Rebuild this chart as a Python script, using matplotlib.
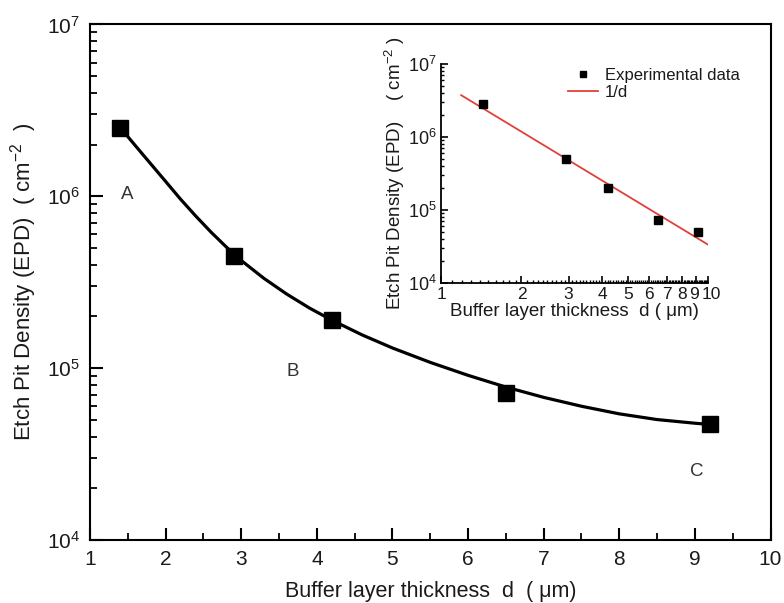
import numpy as np
import matplotlib
matplotlib.use("Agg")
import matplotlib.pyplot as plt
import matplotlib.transforms as mtransforms
from matplotlib.ticker import FixedLocator, LogLocator, NullFormatter, LogFormatterMathtext, FixedFormatter
from matplotlib.lines import Line2D

plt.rcParams['font.family'] = ['Liberation Sans', 'DejaVu Sans']
plt.rcParams['mathtext.fontset'] = 'custom'
plt.rcParams['mathtext.rm'] = 'Liberation Sans'
plt.rcParams['mathtext.it'] = 'Liberation Sans:italic'
plt.rcParams['mathtext.default'] = 'regular'

# ---- data ----
thickness = [1.4, 2.9, 4.2, 6.5, 9.2]
epd = [2.5e6, 4.5e5, 1.9e5, 7.2e4, 4.7e4]

curve_x = [1.4, 1.6, 1.8, 2.0, 2.2, 2.4, 2.6, 2.8, 3.0, 3.3, 3.6, 3.9, 4.2, 4.6,
           5.0, 5.5, 6.0, 6.5, 7.0, 7.5, 8.0, 8.5, 9.0, 9.2]
curve_y = [2.51e6, 1.97e6, 1.55e6, 1.22e6, 9.59e5, 7.66e5, 6.19e5, 5.08e5, 4.23e5,
           3.33e5, 2.70e5, 2.24e5, 1.90e5, 1.56e5, 1.31e5, 1.08e5, 9.08e4, 7.76e4,
           6.76e4, 6.00e4, 5.42e4, 5.02e4, 4.78e4, 4.70e4]

inset_x = [1.44, 2.93, 4.2, 6.47, 9.18]
inset_y = [2.8e6, 4.9e5, 2.0e5, 7.2e4, 4.9e4]
fit_x = [1.19, 10.0]
fit_y = [3.7e6, 3.3e4]

point_labels = ["A", "B", "C"]
label_x = [1.49, 3.68, 9.02]
label_y = [1.02e6, 9.6e4, 2.5e4]

txt = '#1a1a1a'
fig = plt.figure(figsize=(7.84, 6.03), dpi=100)
ax = fig.add_axes([0.1148, 0.1045, 0.868, 0.855])
ax.set_yscale('log')
ax.set_xlim(1, 10)
ax.set_ylim(1e4, 1e7)
ax.plot(curve_x, curve_y, color='black', lw=2.3, solid_capstyle='round',
        solid_joinstyle='round', zorder=2)
ax.plot(thickness, epd, 's', color='black', ms=11, zorder=3)
for t, x, y in zip(point_labels, label_x, label_y):
    ax.text(x, y, t, ha='center', va='center', fontsize=13.5, color='#333333')

for s in ax.spines.values():
    s.set_linewidth(1.5)
ax.xaxis.set_major_locator(FixedLocator(range(1, 11)))
ax.xaxis.set_minor_locator(FixedLocator(np.arange(1.5, 10, 1.0)))
ax.yaxis.set_major_locator(LogLocator(base=10, numticks=10))
ax.yaxis.set_minor_locator(LogLocator(base=10, subs=np.arange(2, 10), numticks=10))
ax.yaxis.set_minor_formatter(NullFormatter())
ax.yaxis.set_major_formatter(LogFormatterMathtext())
ax.tick_params(which='both', direction='in', top=False, right=False, labelsize=15, labelcolor=txt)
ax.tick_params(which='major', length=9, width=1.5, pad=7)
ax.tick_params(which='minor', length=5, width=1.3)
ax.set_xlabel('Buffer layer thickness  d  ( \u03bcm)', fontsize=15.5, color=txt, labelpad=9)
ax.set_ylabel('Etch Pit Density (EPD)  ( cm$^{-2}$  )', fontsize=16, color=txt, labelpad=6)

# ---- inset ----
ins = fig.add_axes([0.5625, 0.5312, 0.341, 0.3632])
ins.set_xscale('log')
ins.set_yscale('log')
ins.set_xlim(1, 10)
ins.set_ylim(1e4, 1e7)
ins.patch.set_alpha(0)
ins.plot(fit_x, fit_y, color='#e0403a', lw=1.3, zorder=2)
ins.plot(inset_x, inset_y, 's', color='black', ms=5.5, zorder=3)
ins.spines['top'].set_visible(False)
ins.spines['right'].set_visible(False)
for s in ['left', 'bottom']:
    ins.spines[s].set_linewidth(1.3)
ins.xaxis.set_major_locator(FixedLocator(range(1, 11)))
ins.xaxis.set_major_formatter(FixedFormatter([str(i) for i in range(1, 11)]))
minor = [v for v in np.round(np.arange(1.1, 10.0, 0.1), 2) if abs(v - round(v)) > 1e-6]
ins.xaxis.set_minor_locator(FixedLocator(minor))
ins.xaxis.set_minor_formatter(NullFormatter())
ins.yaxis.set_major_locator(LogLocator(base=10, numticks=10))
ins.yaxis.set_minor_locator(LogLocator(base=10, subs=np.arange(2, 10), numticks=10))
ins.yaxis.set_minor_formatter(NullFormatter())
ins.yaxis.set_major_formatter(LogFormatterMathtext())
ins.tick_params(which='both', direction='in', labelcolor=txt)
ins.tick_params(axis='x', labelsize=12.5)
ins.tick_params(axis='y', labelsize=13)
ins.tick_params(which='major', length=5, width=1.2, pad=3)
ins.tick_params(which='minor', length=2.5, width=1.0)
ins.set_xlabel('Buffer layer thickness  d ( \u03bcm)', fontsize=13.5, color=txt, labelpad=1)
ins.set_ylabel('Etch Pit Density (EPD)    ( cm$^{-2}$ )', fontsize=13.5, color=txt, labelpad=1)

fig.canvas.draw()
xt = ins.get_xticklabels()
xt[8].set_transform(xt[8].get_transform() + mtransforms.ScaledTranslation(-2.5/100, 0, fig.dpi_scale_trans))
xt[9].set_transform(xt[9].get_transform() + mtransforms.ScaledTranslation(3/100, 0, fig.dpi_scale_trans))

handles = [Line2D([], [], ls='none', marker='s', color='black', ms=5),
           Line2D([], [], color='#e0403a', lw=1.3)]
ins.legend(handles, ['Experimental data', '1/d'], loc='upper left', bbox_to_anchor=(0.42, 1.05),
           frameon=False, fontsize=12, handlelength=1.8, handletextpad=0.4, labelspacing=0.15,
           labelcolor=txt)

fig.savefig('out.png', dpi=100)
